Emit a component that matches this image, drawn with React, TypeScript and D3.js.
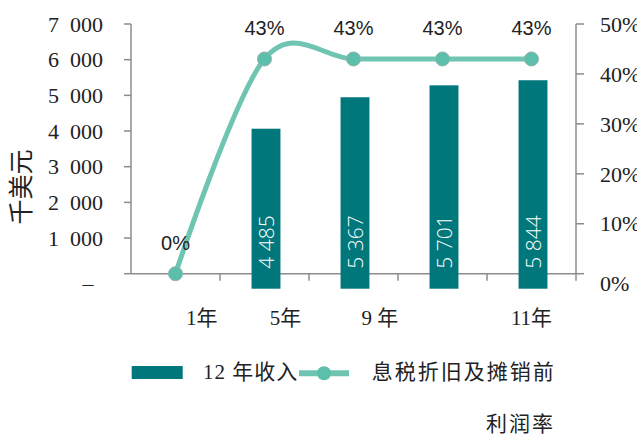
import * as d3 from 'd3';
import React from 'react';

const years = ['\u2003\u2003\u20021年', '\u2003\u20035年', '\u2003\u2003\u20029 年', '', '11年'];
const revenue = [null, 4485, 5367, 5701, 5844];
const ebitdaMargin = [0, 0.43, 0.43, 0.43, 0.43];
const leftTicks = [1000, 2000, 3000, 4000, 5000, 6000, 7000];
const rightTicks = [0, 0.1, 0.2, 0.3, 0.4, 0.5];

const W = 637;
const H = 435;
const barColor = '#00777b';
const lineColor = '#6fc5b2';
const axisColor = '#8c8c8c';
const serif = '"Liberation Serif", "DejaVu Serif", "Noto Sans CJK SC", serif';
const cjk = '"Liberation Serif", "Noto Sans CJK SC", sans-serif';

function fmtThousands(v: number, sep: string) {
  return d3.format(',')(v).replace(',', sep);
}

export default function App() {
  const idx = years.map((_, i) => String(i));
  const x = d3.scaleBand().domain(idx).range([131, 576]).padding(0);
  const y = d3.scaleLinear().domain([0, 7000]).range([273.7, 24]);
  const yR = d3.scaleLinear().domain([0, 0.5]).range([273.7, 24]);
  const cx = (i: number) => (x(String(i)) as number) + x.bandwidth() / 2;
  const barW = x.bandwidth() * 0.325;
  const barShift = 15; // bars sit a little below the axis in the original

  const line = d3
    .line<number>()
    .x((_, i) => cx(i))
    .y((d) => yR(d))
    .curve(d3.curveCardinal.tension(0));

  return (
    <svg width={W} height={H} style={{ position: 'absolute', left: 0, top: 0, background: '#fff' }}>
      {/* left axis */}
      <line x1={131} x2={131} y1={y(7000)} y2={y(0)} stroke={axisColor} strokeWidth={1.5} />
      {[0, ...leftTicks].map((t) => (
        <line key={t} x1={124} x2={131} y1={y(t)} y2={y(t)} stroke={axisColor} strokeWidth={1.5} />
      ))}
      {leftTicks.map((t) => (
        <text key={t} x={103} y={y(t)} dy="0.35em" textAnchor="end" fontFamily={serif} fontSize={22} fill="#222">
          {fmtThousands(t, '\u2002')}
        </text>
      ))}
      <text x={88} y={y(0) + 10} dy="0.35em" textAnchor="middle" fontFamily={serif} fontSize={22} fill="#222">
        –
      </text>
      <text
        transform={`translate(21,187) rotate(-90)`}
        textAnchor="middle"
        dy="0.35em"
        fontFamily={cjk}
        fontSize={25}
        fill="#222"
      >
        千美元
      </text>

      {/* right axis */}
      <line x1={576} x2={576} y1={yR(0.5)} y2={yR(0)} stroke={axisColor} strokeWidth={1.5} />
      {rightTicks.map((t) => (
        <line key={t} x1={576} x2={584} y1={yR(t)} y2={yR(t)} stroke={axisColor} strokeWidth={1.5} />
      ))}
      {rightTicks.map((t) => (
        <text
          key={t}
          x={600}
          y={yR(t) + (t === 0 ? 10 : 0)}
          dy="0.35em"
          fontFamily={serif}
          fontSize={22}
          fill="#222"
        >
          {d3.format('.0%')(t)}
        </text>
      ))}

      {/* x axis */}
      <line x1={131} x2={576} y1={y(0)} y2={y(0)} stroke={axisColor} strokeWidth={1.5} />
      {idx.map((k) => (
        <line
          key={k}
          x1={(x(k) as number) + x.bandwidth()}
          x2={(x(k) as number) + x.bandwidth()}
          y1={y(0)}
          y2={y(0) + 7}
          stroke={axisColor}
          strokeWidth={1.5}
        />
      ))}
      {years.map((lab, i) => (
        <text
          key={i}
          x={cx(i)}
          y={325}
          textAnchor="middle"
          fontFamily={serif}
          fontSize={21}
          fill="#222"
          style={{ whiteSpace: 'pre' }}
        >
          {lab}
        </text>
      ))}

      {/* bars */}
      {revenue.map((v, i) =>
        v == null ? null : (
          <g key={i}>
            <rect
              x={cx(i) + 1.5 - barW / 2}
              y={y(v) + barShift}
              width={barW}
              height={y(0) - y(v)}
              fill={barColor}
            />
            <text
              transform={`translate(${cx(i) + 1.5},${y(0) + barShift - 20}) rotate(-90)`}
              dy="0.36em"
              fontFamily='"Open Sans", "Liberation Sans", sans-serif'
              fontWeight={300}
              fontSize={21}
              fill="#fff"
            >
              {fmtThousands(v, ' ')}
            </text>
          </g>
        )
      )}

      {/* margin line */}
      <path d={line(ebitdaMargin) || ''} fill="none" stroke={lineColor} strokeWidth={5} />
      {ebitdaMargin.map((v, i) => (
        <g key={i}>
          <circle cx={cx(i)} cy={yR(v)} r={7} fill="#5cbfab" stroke="#8fb3ad" strokeWidth={1} />
          <text
            x={cx(i)}
            y={yR(v) - 24}
            textAnchor="middle"
            fontFamily='"Liberation Sans", Arial, sans-serif'
            fontSize={20}
            fill="#222"
          >
            {d3.format('.0%')(v)}
          </text>
        </g>
      ))}

      {/* legend */}
      <rect x={131.7} y={366} width={51} height={13} fill={barColor} />
      <text x={203} y={379} fontFamily={cjk} fontSize={21} letterSpacing={1} fill="#222">
        12 年收入
      </text>
      <line x1={299} x2={349} y1={373.3} y2={373.3} stroke={lineColor} strokeWidth={6} />
      <circle cx={324} cy={373.3} r={7} fill="#5cbfab" />
      <text x={371.7} y={379} fontFamily={cjk} fontSize={21} letterSpacing={2} fill="#222">
        息税折旧及摊销前
      </text>
      <text x={555} y={431} textAnchor="end" fontFamily={cjk} fontSize={21} letterSpacing={2} fill="#222">
        利润率
      </text>
    </svg>
  );
}
